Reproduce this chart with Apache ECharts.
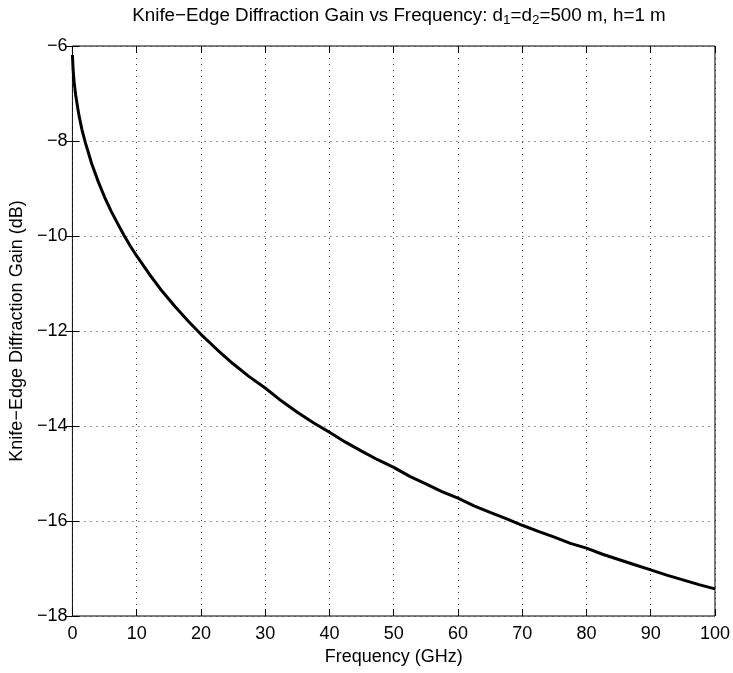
<!DOCTYPE html>
<html>
<head>
<meta charset="utf-8">
<script src="https://cdn.jsdelivr.net/npm/echarts@6/dist/echarts.min.js"></script>
<style>html,body{margin:0;padding:0;background:#fff;}#chart{width:733px;height:673px;}</style>
</head>
<body>
<div id="chart"></div>
<script>
// Frequency (GHz) and knife-edge diffraction gain (dB)
const freq = [0, 0.1, 0.25, 0.5, 1, 1.5, 2, 3, 4, 5, 6, 7, 8, 9, 10, 12, 14, 16, 18, 20, 22.5, 25, 27.5, 30, 32.5, 35, 37.5, 40, 42.5, 45, 47.5, 50, 52.5, 55, 57.5, 60, 62.5, 65, 67.5, 70, 72.5, 75, 77.5, 80, 82.5, 85, 87.5, 90, 92.5, 95, 97.5, 100];
const gain = [-6.19, -6.48, -6.74, -7.03, -7.45, -7.77, -8.03, -8.48, -8.85, -9.18, -9.47, -9.73, -9.98, -10.21, -10.42, -10.81, -11.17, -11.49, -11.79, -12.07, -12.39, -12.69, -12.96, -13.20, -13.47, -13.71, -13.93, -14.13, -14.34, -14.53, -14.71, -14.87, -15.06, -15.22, -15.38, -15.52, -15.68, -15.82, -15.95, -16.09, -16.22, -16.34, -16.47, -16.57, -16.70, -16.81, -16.92, -17.03, -17.14, -17.24, -17.34, -17.43];
const xTicks = [0, 100, 10];   // min, max, interval
const yTicks = [-18, -6, 2];

const FONT = '"Liberation Sans", Arial, sans-serif';
const minus = v => String(v).replace('-', '\u2212');
const chart = echarts.init(document.getElementById('chart'), null, {renderer: 'canvas'});

const gridLine = {show: true, lineStyle: {color: '#333', width: 1, type: [1, 5]}};
const baseAxis = (min, max, interval) => ({
  type: 'value', min: min, max: max, interval: interval,
  axisLine: {show: false},
  axisTick: {show: true, inside: true, length: 7, lineStyle: {color: '#000', width: 1}},
});

chart.setOption({
  animation: false,
  backgroundColor: '#fff',
  title: {
    text: 'Knife\u2212Edge Diffraction Gain vs Frequency: d{sub|1}=d{sub|2}=500 m, h=1 m',
    left: 394, top: 0, textAlign: 'center',
    textStyle: {
      fontFamily: FONT, fontSize: 18.8, fontWeight: 'normal', color: '#000', lineHeight: 22,
      rich: {
        sub: {fontFamily: FONT, fontSize: 13.5, color: '#000', lineHeight: 12, verticalAlign: 'bottom'}
      }
    }
  },
  grid: {left: 71, top: 46, width: 646, height: 570, containLabel: false,
         show: true, borderColor: '#000', borderWidth: 1, backgroundColor: 'transparent'},
  xAxis: [
    Object.assign(baseAxis(xTicks[0], xTicks[1], xTicks[2]), {
      position: 'bottom',
      name: 'Frequency (GHz)', nameLocation: 'middle', nameGap: 32,
      nameTextStyle: {fontFamily: FONT, fontSize: 18, color: '#000'},
      axisLabel: {show: true, margin: 9, fontFamily: FONT, fontSize: 18, color: '#000', formatter: minus},
      splitLine: gridLine
    }),
    Object.assign(baseAxis(xTicks[0], xTicks[1], xTicks[2]), {
      position: 'top', axisLabel: {show: false}, splitLine: {show: false}
    })
  ],
  yAxis: [
    Object.assign(baseAxis(yTicks[0], yTicks[1], yTicks[2]), {
      position: 'left',
      name: 'Knife\u2212Edge Diffraction Gain (dB)', nameLocation: 'middle', nameGap: 36,
      nameTextStyle: {fontFamily: FONT, fontSize: 18, color: '#000'},
      axisLabel: {show: true, margin: 5, fontFamily: FONT, fontSize: 18, color: '#000', formatter: minus},
      splitLine: gridLine
    }),
    Object.assign(baseAxis(yTicks[0], yTicks[1], yTicks[2]), {
      position: 'right', axisLabel: {show: false}, splitLine: {show: false}
    })
  ],
  series: [{
    type: 'line',
    data: freq.map((f, i) => [f, gain[i]]),
    xAxisIndex: 0, yAxisIndex: 0,
    smooth: false,
    showSymbol: false,
    lineStyle: {color: '#000', width: 3, join: 'round'},
    clip: true
  }]
});
</script>
</body>
</html>
